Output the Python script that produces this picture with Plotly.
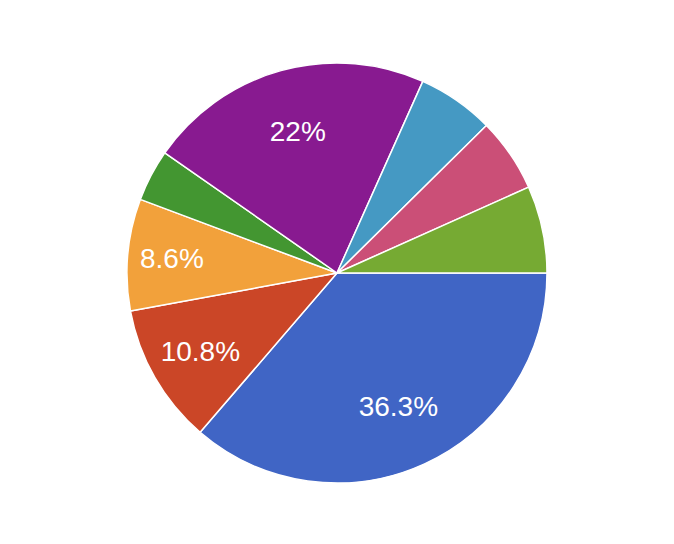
import plotly.graph_objects as go

# slice shares (percent), clockwise from 3 o'clock
labels = ["A", "B", "C", "D", "E", "F", "G", "H"]
values = [36.3, 10.8, 8.6, 4.0, 22.0, 5.9, 5.7, 6.7]
colors = ["#4065c5", "#cb4627", "#f2a13b", "#439631",
          "#881a90", "#4599c3", "#cb4f77", "#76aa33"]

# small slices get no label, like the original
slice_text = [f"{v:g}%" if v >= 8 else "" for v in values]

pie_common = dict(
    labels=labels,
    values=values,
    sort=False,
    direction="clockwise",
    rotation=90,
    domain=dict(x=[0, 1], y=[0, 1]),
)

fig = go.Figure()

# the coloured pie itself
fig.add_trace(go.Pie(
    **pie_common,
    textinfo="none",
    marker=dict(colors=colors, line=dict(color="white", width=1.5)),
    hoverinfo="label+percent",
))

# transparent ring on top, only to push the labels further out
fig.add_trace(go.Pie(
    **pie_common,
    hole=0.40,
    text=slice_text,
    textinfo="text",
    textposition="inside",
    insidetextorientation="horizontal",
    marker=dict(colors=["rgba(0,0,0,0)"] * len(values),
                line=dict(width=0)),
    textfont=dict(family="Liberation Sans, Arial", size=28, color="white"),
    hoverinfo="skip",
))

fig.update_layout(
    width=658, height=528,
    margin=dict(l=0, r=0, t=55, b=53),
    showlegend=False,
    paper_bgcolor="white",
)

fig.write_html("out.html")
